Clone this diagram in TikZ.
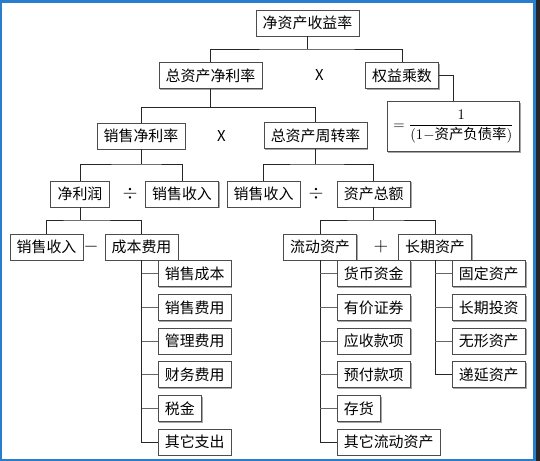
\documentclass[tikz,border=0pt]{standalone}
\usepackage{fontspec}
\newfontfamily\cjk{Noto Sans CJK SC}
\usetikzlibrary{shadows}
\definecolor{frameblue}{RGB}{40,125,205}
\tikzset{
  box/.style={draw=black!70, fill=white, line width=0.7pt, font=\cjk\fontsize{11.2}{13}\selectfont,
    minimum height=19.5pt, inner xsep=5pt, inner ysep=0pt,
    general shadow={fill=black!35, shadow xshift=0.9pt, shadow yshift=-0.9pt}},
  leaf/.style={box, anchor=west},
  op/.style={font=\cjk\fontsize{11.2}{13}\selectfont},
  mop/.style={font=\fontsize{15}{17}\selectfont},
  link/.style={draw=black!85, line width=0.75pt},
  twig/.style={draw=black!60, line width=0.75pt},
}
\begin{document}
\begin{tikzpicture}[x=0.75pt, y=-0.75pt]
\useasboundingbox (0,0) rectangle (540,461);
\fill[frameblue] (0,0) rectangle (540,461);
\fill[white] (2,2.5) rectangle (533,459);
\fill[black!85] (536,0) rectangle (540,461);
% top levels
\node[box] (roe) at (307.5,23) {净资产收益率};
\node[box] (zzjl) at (210.5,75.5) {总资产净利率};
\node[op] (mul1) at (319.5,75.5) {X};
\node[box] (qycs) at (402,75.5) {权益乘数};
\node[box, minimum width=99.5pt, minimum height=37.5pt, inner xsep=2pt, font=\fontsize{11}{13}\selectfont] (frac) at (453.6,126.7)
  {$\displaystyle=\frac{1}{(1{-}\mbox{\cjk\fontsize{10.8}{13}\selectfont 资产负债率})}$};
\node[box] (xsjl) at (141,136) {销售净利率};
\node[op] (mul2) at (221.4,136) {X};
\node[box] (zzzz) at (315.6,135.5) {总资产周转率};
% third level
\node[box] (jlr) at (80,194) {净利润};
\node[mop] (div1) at (130,194) {$\div$};
\node[box] (xssr1) at (182,194) {销售收入};
\node[box] (xssr2) at (263.6,194) {销售收入};
\node[mop] (div2) at (316,194) {$\div$};
\node[box] (zcze) at (373.8,194) {资产总额};
% fourth level
\node[box] (xssr3) at (46.5,247) {销售收入};
\node[mop] (minus) at (91,247) {$-$};
\node[box] (cbfy) at (141.5,247) {成本费用};
\node[box] (ldzc) at (320,247) {流动资产};
\node[mop] (plus) at (381,247) {$+$};
\node[box] (cqzc) at (435,247) {长期资产};
% cost items
\node[leaf] (xscb) at (157.7,273.7) {销售成本};
\node[leaf] (xsfy) at (157.7,307.4) {销售费用};
\node[leaf] (glfy) at (157.7,341.1) {管理费用};
\node[leaf] (cwfy) at (157.7,374.8) {财务费用};
\node[leaf] (sj) at (157.7,408.5) {税金};
\node[leaf] (qtzc) at (157.7,442.2) {其它支出};
% current assets
\node[leaf] (hbzj) at (336.8,273.7) {货币资金};
\node[leaf] (yjzq) at (336.8,307.4) {有价证券};
\node[leaf] (yskx) at (336.8,341.1) {应收款项};
\node[leaf] (yfkx) at (336.8,374.8) {预付款项};
\node[leaf] (ch) at (336.8,408.5) {存货};
\node[leaf] (qtld) at (336.8,442.2) {其它流动资产};
% long-term assets
\node[leaf] (gdzc) at (451.8,273.7) {固定资产};
\node[leaf] (cqtz) at (451.8,307.4) {长期投资};
\node[leaf] (wxzc) at (451.8,341.1) {无形资产};
\node[leaf] (dyzc) at (451.8,374.8) {递延资产};
% bars
\coordinate (b1) at (307.5,49);
\coordinate (b2) at (210.5,107.5);
\coordinate (b3) at (141,164);
\coordinate (b4) at (315.6,164);
\coordinate (b5) at (80,220);
\coordinate (b6) at (373.8,220);
\draw[link] (roe.south) -- (b1);
\draw[link] (zzjl.north) |- (b1) -| (qycs.north);
\draw[link] (qycs.east) -| (frac.north);
\draw[link] (zzjl.south) -- (b2);
\draw[link] (xsjl.north) |- (b2) -| (zzzz.north);
\draw[link] (xsjl.south) -- (b3);
\draw[link] (jlr.north) |- (b3) -| (xssr1.north);
\draw[link] (zzzz.south) -- (b4);
\draw[link] (xssr2.north) |- (b4) -| (zcze.north);
\draw[link] (jlr.south) -- (b5);
\draw[link] (xssr3.north) |- (b5) -| (cbfy.north);
\draw[link] (zcze.south) -- (b6);
\draw[link] (ldzc.north) |- (b6) -| (cqzc.north);
% branches
\draw[link] (cbfy.south) |- (qtzc.west);
\draw[twig] (cbfy.south |- xscb.west) -- (xscb.west);
\draw[twig] (cbfy.south |- xsfy.west) -- (xsfy.west);
\draw[twig] (cbfy.south |- glfy.west) -- (glfy.west);
\draw[twig] (cbfy.south |- cwfy.west) -- (cwfy.west);
\draw[twig] (cbfy.south |- sj.west) -- (sj.west);
\draw[link] (ldzc.south) |- (qtld.west);
\draw[twig] (ldzc.south |- hbzj.west) -- (hbzj.west);
\draw[twig] (ldzc.south |- yjzq.west) -- (yjzq.west);
\draw[twig] (ldzc.south |- yskx.west) -- (yskx.west);
\draw[twig] (ldzc.south |- yfkx.west) -- (yfkx.west);
\draw[twig] (ldzc.south |- ch.west) -- (ch.west);
\draw[link] (cqzc.south) |- (dyzc.west);
\draw[twig] (cqzc.south |- gdzc.west) -- (gdzc.west);
\draw[twig] (cqzc.south |- cqtz.west) -- (cqtz.west);
\draw[twig] (cqzc.south |- wxzc.west) -- (wxzc.west);
\end{tikzpicture}
\end{document}
